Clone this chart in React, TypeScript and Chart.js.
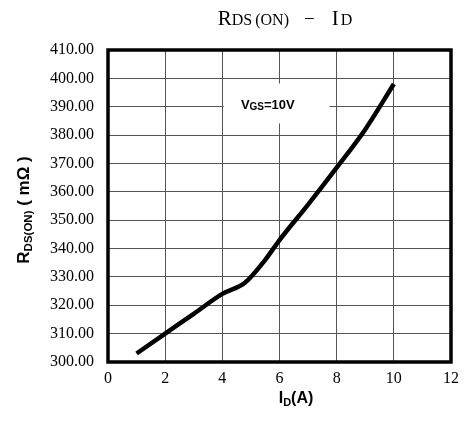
import React, { useEffect, useRef } from "react";
import Chart from "chart.js/auto";

// ---- data ----
const currentA = [1, 2, 3, 4, 4.8, 5.5, 6, 7, 8, 9, 10];
const rdsOnMOhm = [303, 310, 317, 324, 328, 336, 343, 355.5, 368.5, 382, 398];
const xMin = 0;
const xMax = 12;
const xStep = 2;
const yMin = 300;
const yMax = 410;
const yStep = 10;
const annotationMain = "V";
const annotationSub = "GS";
const annotationRest = "=10V";

type Run = { text: string; font: string; dy?: number; gap?: number };

function runsWidth(ctx: CanvasRenderingContext2D, runs: Run[]) {
  let w = 0;
  for (const r of runs) {
    ctx.font = r.font;
    w += ctx.measureText(r.text).width + (r.gap || 0);
  }
  return w;
}

function drawRuns(ctx: CanvasRenderingContext2D, runs: Run[], x: number, y: number) {
  let cx = x;
  ctx.textAlign = "left";
  ctx.textBaseline = "alphabetic";
  for (const r of runs) {
    ctx.font = r.font;
    ctx.fillText(r.text, cx, y + (r.dy || 0));
    cx += ctx.measureText(r.text).width + (r.gap || 0);
  }
}

const decorPlugin = {
  id: "decor",
  beforeDatasetsDraw(chart: any) {
    const { ctx } = chart;
    const xs = chart.scales.x;
    const ys = chart.scales.y;
    // white annotation box covering grid
    const x0 = xs.getPixelForValue(4.05);
    const x1 = xs.getPixelForValue(7.75);
    const y0 = ys.getPixelForValue(398.2);
    const y1 = ys.getPixelForValue(384.1);
    ctx.save();
    ctx.fillStyle = "#ffffff";
    ctx.fillRect(x0, y0, x1 - x0, y1 - y0);
    ctx.fillStyle = "#000";
    const bold = (s: number) => `bold ${s}px "Liberation Sans", Arial, sans-serif`;
    drawRuns(
      ctx,
      [
        { text: annotationMain, font: bold(13) },
        { text: annotationSub, font: bold(10), dy: 1 },
        { text: annotationRest, font: bold(13) },
      ],
      xs.getPixelForValue(4.65),
      ys.getPixelForValue(389.1)
    );
    ctx.restore();
  },
  afterDraw(chart: any) {
    const { ctx, chartArea: a } = chart;
    ctx.save();
    // plot frame
    ctx.strokeStyle = "#000";
    ctx.lineWidth = 3.5;
    ctx.strokeRect(a.left, a.top, a.right - a.left, a.bottom - a.top);

    ctx.fillStyle = "#000";
    // chart title
    const serif = (s: number) => `${s}px "Liberation Serif", "DejaVu Serif", serif`;
    const titleRuns: Run[] = [
      { text: "R", font: serif(21) },
      { text: "DS", font: serif(16), gap: 3 },
      { text: "(ON)", font: serif(16), gap: 15 },
      { text: "\u2212", font: serif(19), gap: 17 },
      { text: "I", font: serif(21), gap: 2 },
      { text: "D", font: serif(16) },
    ];
    const tw = runsWidth(ctx, titleRuns);
    drawRuns(ctx, titleRuns, 285 - tw / 2, 25);

    const bold = (s: number) => `bold ${s}px "Liberation Sans", Arial, sans-serif`;
    // x axis title
    const xRuns: Run[] = [
      { text: "I", font: bold(16) },
      { text: "D", font: bold(11), dy: 3 },
      { text: "(A)", font: bold(16) },
    ];
    const xw = runsWidth(ctx, xRuns);
    drawRuns(ctx, xRuns, 296 - xw / 2, 403);

    // y axis title (rotated)
    const yRuns: Run[] = [
      { text: "R", font: bold(17) },
      { text: "DS(ON)", font: bold(11.5), dy: 3 },
      { text: " ( m\u03A9 )", font: bold(17) },
    ];
    const yw = runsWidth(ctx, yRuns);
    ctx.translate(29, 210);
    ctx.rotate(-Math.PI / 2);
    drawRuns(ctx, yRuns, -yw / 2, 0);
    ctx.restore();
  },
};

export default function App() {
  const ref = useRef<HTMLCanvasElement | null>(null);
  useEffect(() => {
    document.body.style.margin = "0";
    const canvas = ref.current;
    if (!canvas) return;
    const tickFont = { family: '"Liberation Serif", "DejaVu Serif", serif', size: 16 };
    const chart = new Chart(canvas, {
      type: "line",
      data: {
        datasets: [
          {
            data: currentA.map((x, i) => ({ x, y: rdsOnMOhm[i] })),
            borderColor: "#000",
            borderWidth: 4.5,
            pointRadius: 0,
            cubicInterpolationMode: "monotone",
            fill: false,
          },
        ],
      },
      options: {
        animation: false,
        responsive: false,
        devicePixelRatio: 1,
        layout: { padding: { left: 0, right: 11, top: 50, bottom: 0 } },
        plugins: { legend: { display: false }, tooltip: { enabled: false }, title: { display: false } },
        scales: {
          x: {
            type: "linear",
            min: xMin,
            max: xMax,
            ticks: { stepSize: xStep, font: tickFont, color: "#000", padding: 7, maxRotation: 0 },
            grid: { color: "#555", lineWidth: 1, drawTicks: false },
            border: { display: false },
            afterFit: (s: any) => {
              s.height = 61;
            },
          },
          y: {
            type: "linear",
            min: yMin,
            max: yMax,
            ticks: {
              stepSize: yStep,
              font: tickFont,
              color: "#000",
              padding: 14,
              callback: (v: any) => Number(v).toFixed(2),
            },
            grid: { color: "#555", lineWidth: 1, drawTicks: false },
            border: { display: false },
            afterFit: (s: any) => {
              s.width = 108;
            },
          },
        },
      } as any,
      plugins: [decorPlugin],
    });
    return () => chart.destroy();
  }, []);
  return <canvas ref={ref} width={466} height={423} style={{ display: "block", width: 466, height: 423 }} />;
}
